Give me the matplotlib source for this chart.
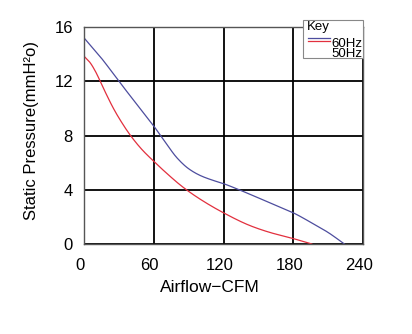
import numpy as np
import matplotlib
matplotlib.use("Agg")
import matplotlib.pyplot as plt
from matplotlib.lines import Line2D
from matplotlib.patches import Rectangle
import matplotlib.transforms as mtransforms

plt.rcParams['font.family'] = ['Liberation Sans', 'DejaVu Sans']

# Fan performance curves (airflow in CFM vs static pressure in mmH2O)
flow_60 = [0, 15, 30, 45, 60, 70, 80, 90, 100, 110, 120, 132, 150, 165, 180, 195, 210, 224]
pres_60 = [15.2, 13.7, 12.0, 10.35, 8.7, 7.5, 6.35, 5.55, 5.05, 4.72, 4.45, 4.05, 3.4, 2.85, 2.3, 1.6, 0.85, 0.0]
flow_50 = [0, 5, 10, 15, 20, 25, 30, 40, 50, 60, 70, 85, 100, 120, 143, 160, 180, 196]
pres_50 = [13.85, 13.4, 12.7, 11.8, 10.9, 10.05, 9.3, 8.0, 6.95, 6.1, 5.3, 4.2, 3.3, 2.3, 1.35, 0.85, 0.4, 0.0]

x_ticks = [0, 60, 120, 180, 240]
y_ticks = [0, 4, 8, 12, 16]
series_labels = ["60Hz", "50Hz"]
blue = "#4d4d9e"
red = "#e2303e"

W, H = 412, 334


def pchip(xs, ys, n=400):
    """Monotone piecewise cubic (Fritsch-Carlson) through the points."""
    x = np.asarray(xs, float)
    y = np.asarray(ys, float)
    h = np.diff(x)
    d = np.diff(y) / h
    m = np.zeros_like(y)
    for k in range(1, len(x) - 1):
        if d[k - 1] * d[k] <= 0:
            m[k] = 0.0
        else:
            w1 = 2 * h[k] + h[k - 1]
            w2 = h[k] + 2 * h[k - 1]
            m[k] = (w1 + w2) / (w1 / d[k - 1] + w2 / d[k])
    m[0] = d[0]
    m[-1] = d[-1]
    xx = np.linspace(x[0], x[-1], n)
    idx = np.clip(np.searchsorted(x, xx) - 1, 0, len(x) - 2)
    t = (xx - x[idx]) / h[idx]
    h00 = 2 * t ** 3 - 3 * t ** 2 + 1
    h10 = t ** 3 - 2 * t ** 2 + t
    h01 = -2 * t ** 3 + 3 * t ** 2
    h11 = t ** 3 - t ** 2
    yy = (h00 * y[idx] + h10 * h[idx] * m[idx] +
          h01 * y[idx + 1] + h11 * h[idx] * m[idx + 1])
    return xx, yy


def fx(px):
    return px / W


def fy(py):
    return 1 - py / H


fig = plt.figure(figsize=(W / 100, H / 100), dpi=100)
ax = fig.add_axes([fx(84), fy(244), (363 - 84) / W, (244 - 27) / H])

ax.set_xlim(0, 240)
ax.set_ylim(0, 16)
ax.set_xticks(x_ticks)
ax.set_yticks(y_ticks)
ax.grid(True, color="black", linewidth=1.3)
ax.set_axisbelow(True)
ax.tick_params(length=0, labelsize=12)
ax.tick_params(axis="x", pad=10)
ax.tick_params(axis="y", pad=8)
shift = mtransforms.ScaledTranslation(-4 / 100, 0, fig.dpi_scale_trans)
for lbl in ax.get_xticklabels():
    lbl.set_transform(lbl.get_transform() + shift)
for s in ax.spines.values():
    s.set_color("#555555")
    s.set_linewidth(1.0)

bx, by = pchip(flow_60, pres_60)
rx, ry = pchip(flow_50, pres_50)
ax.plot(bx, by, color=blue, linewidth=0.9)
ax.plot(rx, ry, color=red, linewidth=0.9)

fig.text(fx(210), fy(287), "Airflow\u2212CFM", fontsize=12.5, ha="center", va="center")
fig.text(fx(32), fy(131), "Static Pressure(mmH\u00b2o)", fontsize=12,
         rotation=90, ha="center", va="center")

# Key box
fig.patches.append(Rectangle((fx(303), fy(58)), (363 - 303) / W, (58 - 20) / H,
                             transform=fig.transFigure, facecolor="white",
                             edgecolor="#888888", linewidth=0.8, zorder=5))
fig.text(fx(307), fy(21), "Key", fontsize=9.5, ha="left", va="top", zorder=6)
for col, yy in ((blue, 38.3), (red, 40.8)):
    fig.add_artist(Line2D([fx(308), fx(330)], [fy(yy), fy(yy)], color=col,
                          linewidth=0.9, transform=fig.transFigure, zorder=6))
fig.text(fx(362.5), fy(49), "\n".join(series_labels), fontsize=9.5,
         ha="right", va="center", multialignment="right", linespacing=0.85, zorder=6)

fig.savefig("out.png", dpi=100)
